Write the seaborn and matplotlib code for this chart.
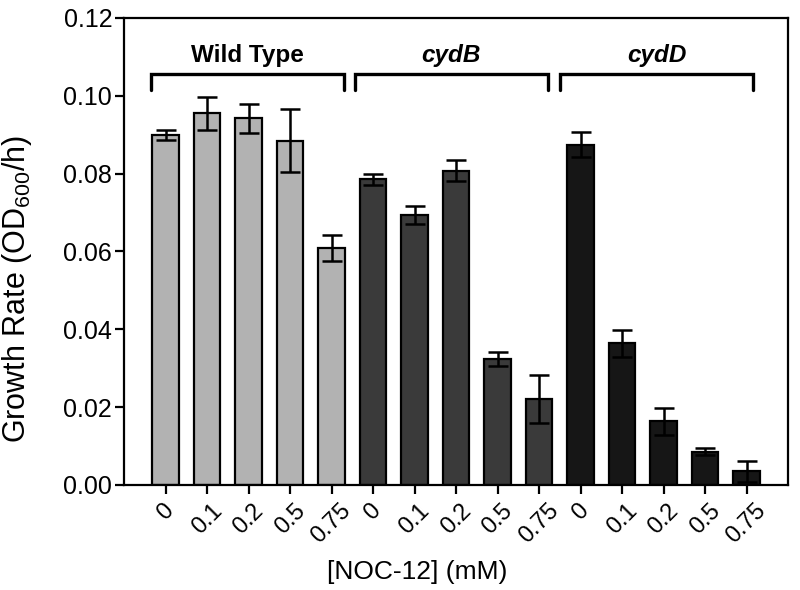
import numpy as np
import pandas as pd
import seaborn as sns
import matplotlib.pyplot as plt

# data
groups = ['Wild Type', 'cydB', 'cydD']
conc_labels = ['0', '0.1', '0.2', '0.5', '0.75']
wt_rate = [0.0899, 0.0955, 0.0942, 0.0885, 0.0609]
wt_err = [0.0013, 0.0042, 0.0038, 0.0082, 0.0034]
cydb_rate = [0.0785, 0.0694, 0.0808, 0.0325, 0.0221]
cydb_err = [0.0015, 0.0024, 0.0026, 0.0018, 0.0062]
cydd_rate = [0.0874, 0.0364, 0.0164, 0.0085, 0.0035]
cydd_err = [0.0032, 0.0034, 0.0035, 0.0009, 0.0027]
bar_colors = ['#b2b2b2', '#3a3a3a', '#161616']

sns.set_style('ticks')
plt.rcParams['font.family'] = ['Liberation Sans', 'DejaVu Sans']
plt.rcParams['mathtext.default'] = 'regular'
for k in ['text.color', 'axes.labelcolor', 'xtick.color', 'ytick.color', 'axes.edgecolor']:
    plt.rcParams[k] = 'black'

rates = [wt_rate, cydb_rate, cydd_rate]
errs = [wt_err, cydb_err, cydd_err]
df = pd.DataFrame({
    'bar': [f'{g}|{c}' for g in groups for c in conc_labels],
    'conc': [c for g in groups for c in conc_labels],
    'group': [g for g in groups for c in conc_labels],
    'rate': [v for r in rates for v in r],
    'err': [v for e in errs for v in e],
})

fig = plt.figure(figsize=(8, 5.9), dpi=100)
ax = fig.add_axes([0.155, 0.178, 0.83, 0.7915])

sns.barplot(data=df, x='bar', y='rate', hue='group', palette=bar_colors,
            dodge=False, width=0.64, edgecolor='black', linewidth=1.6,
            legend=False, ax=ax)

xs = np.arange(len(df))
ax.errorbar(xs, df['rate'], yerr=df['err'], fmt='none', ecolor='black',
            elinewidth=1.8, capsize=7, capthick=1.8, zorder=5)

# group brackets and labels
bracket_spans = [(-0.35, 4.29), (4.57, 9.21), (9.50, 14.16)]
for (x0, x1), name in zip(bracket_spans, groups):
    ax.plot([x0, x0, x1, x1], [0.1014, 0.1056, 0.1056, 0.1014], color='black',
            lw=2.4, solid_joinstyle='miter', clip_on=False)
    style = 'normal' if name == 'Wild Type' else 'italic'
    ax.text((x0 + x1) / 2, 0.1086, name, ha='center', va='baseline',
            fontsize=17.5, fontweight='bold', style=style)

ax.set_xlim(-1.0, 15.0)
ax.set_ylim(0, 0.12)
yt = np.arange(0, 0.121, 0.02)
ax.set_yticks(yt)
ax.set_yticklabels([f'{v:.2f}' for v in yt], fontsize=18)
ax.set_xticks(xs)
ax.set_xticklabels(df['conc'], fontsize=17, rotation=45, ha='center')

for s in ax.spines.values():
    s.set_visible(True)
    s.set_linewidth(1.6)
ax.tick_params(direction='out', length=6.5, width=1.6)
ax.tick_params(axis='x', pad=4)
ax.tick_params(axis='y', pad=2)

ax.set_ylabel('Growth Rate (OD$_{600}$/h)', fontsize=22)
ax.yaxis.set_label_coords(-0.135, 0.42)
ax.set_xlabel('[NOC-12] (mM)', fontsize=19)
ax.xaxis.set_label_coords(0.441, -0.16)

fig.savefig('out.png', dpi=100)
